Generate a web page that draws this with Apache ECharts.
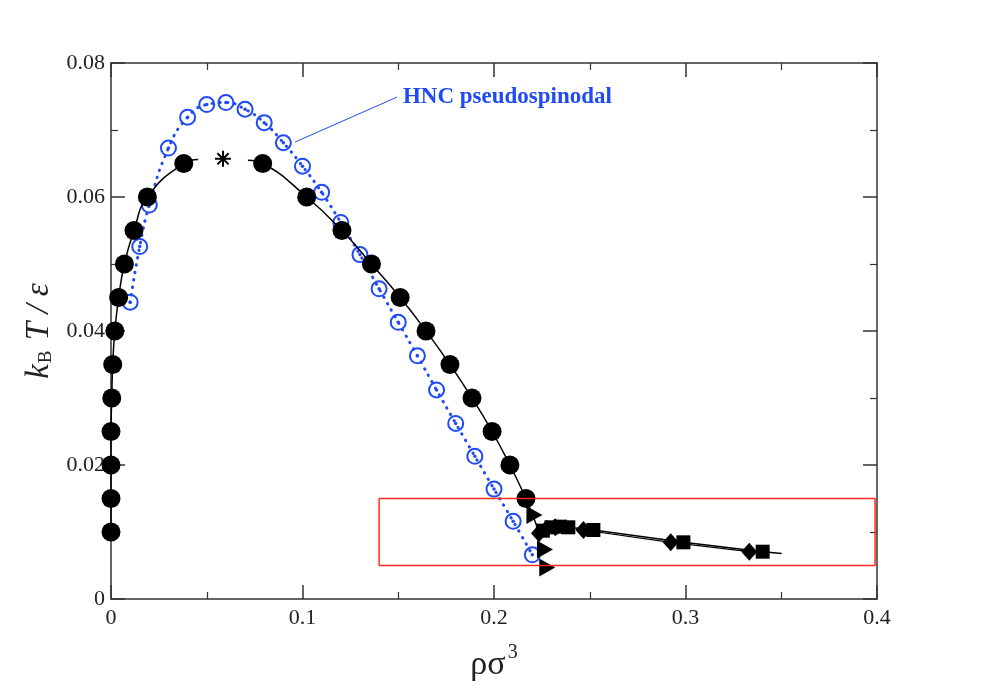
<!DOCTYPE html>
<html>
<head>
<meta charset="utf-8">
<script src="https://cdn.jsdelivr.net/npm/echarts@6/dist/echarts.min.js"></script>
<style>
  html, body { margin: 0; padding: 0; background: #fff; }
  #main { width: 981px; height: 691px; }
</style>
</head>
<body>
<div id="main"></div>
<script>
// tick labels
var xTicks = [0, 0.1, 0.2, 0.3, 0.4];
var yTicks = [0, 0.02, 0.04, 0.06, 0.08];

// simulation coexistence points (black circles)
var coexLeft = [[0, 0.01], [0, 0.015], [0, 0.02], [0, 0.025], [0.0004, 0.03], [0.0009, 0.035],
  [0.002, 0.04], [0.004, 0.045], [0.007, 0.05], [0.012, 0.055], [0.019, 0.06], [0.038, 0.065]];
var coexRight = [[0.0792, 0.065], [0.1022, 0.06], [0.1206, 0.055], [0.136, 0.05], [0.151, 0.045],
  [0.1645, 0.04], [0.177, 0.035], [0.1885, 0.03], [0.199, 0.025], [0.2083, 0.02], [0.2167, 0.015]];
// critical point (asterisk)
var critical = [[0.0585, 0.0657]];
// ends of the fitted curve next to the critical point
var leftEnd = [0.0455, 0.0656];
var rightStart = [0.0715, 0.0655];
// low temperature branch
var tail = [[0.2167, 0.015], [0.2228, 0.0106], [0.2388, 0.0107], [0.2519, 0.0103],
  [0.2989, 0.00846], [0.3403, 0.00706], [0.3502, 0.0068]];
var triangles = [[0.2211, 0.01254], [0.2266, 0.0074], [0.2278, 0.0047]];
var diamonds = [[0.2235, 0.0098], [0.2275, 0.0105], [0.232, 0.0107], [0.2467, 0.0103],
  [0.2923, 0.00846], [0.3333, 0.00706]];
var squares = [[0.2255, 0.0102], [0.23, 0.0107], [0.2345, 0.0108], [0.2388, 0.0107],
  [0.2519, 0.0103], [0.2989, 0.00846], [0.3403, 0.00706]];

// HNC pseudospinodal (blue)
var hncX = [0.01, 0.015, 0.02, 0.03, 0.04, 0.05, 0.06, 0.07, 0.08, 0.09, 0.1, 0.11, 0.12,
  0.13, 0.14, 0.15, 0.16, 0.17, 0.18, 0.19, 0.2, 0.21, 0.22];
var hncT = [0.0443, 0.0526, 0.0588, 0.0673, 0.0719, 0.0738, 0.0741, 0.0731, 0.0711, 0.0681,
  0.0646, 0.0607, 0.0562, 0.0514, 0.0463, 0.0413, 0.0363, 0.0312, 0.0262, 0.0213, 0.0164,
  0.0116, 0.0066];

// annotation pointer and highlighted box
var pointer = [[0.0961, 0.0682], [0.1493, 0.0749]];
var box = [[0.14, 0.005], [0.399, 0.005], [0.399, 0.015], [0.14, 0.015], [0.14, 0.005]];

var blue = '#1f4af5';
var hnc = hncX.map(function (x, i) { return [x, hncT[i]]; });

var chart = echarts.init(document.getElementById('main'));

var serif = 'Liberation Serif';
var axisLineStyle = { color: '#333', width: 1.5 };

function makeAxis(type, pos, showLabel, extra) {
  var ax = {
    type: 'value',
    position: pos,
    min: 0,
    max: type === 'x' ? 0.4 : 0.08,
    interval: type === 'x' ? 0.1 : 0.02,
    axisLine: { show: true, onZero: false, lineStyle: axisLineStyle },
    axisTick: { show: true, inside: true, length: 14, lineStyle: axisLineStyle },
    minorTick: { show: true, splitNumber: 2, length: 7, lineStyle: { color: '#333', width: 1.2 } },
    splitLine: { show: false },
    axisLabel: {
      show: showLabel,
      fontFamily: serif,
      fontSize: 22,
      color: '#222',
      margin: type === 'x' ? 8 : 6
    }
  };
  return Object.assign(ax, extra || {});
}

var option = {
  animation: false,
  backgroundColor: '#fff',
  grid: { left: 111, right: 104, top: 63, bottom: 92 },
  xAxis: [
    makeAxis('x', 'bottom', true, {
      name: 'ρσ{sup|3}',
      nameLocation: 'middle',
      nameGap: 44,
      nameTextStyle: {
        fontFamily: serif, fontSize: 34, color: '#222',
        rich: { sup: { fontFamily: serif, fontSize: 20, color: '#222', verticalAlign: 'top', padding: [0, 0, 24, 2] } }
      }
    }),
    makeAxis('x', 'top', false)
  ],
  yAxis: [
    makeAxis('y', 'left', true, {
      name: '{i|k}{sub|B}{i| T / ε}',
      nameLocation: 'middle',
      nameGap: 55,
      nameTextStyle: {
        rich: {
          i: { fontFamily: serif, fontStyle: 'italic', fontSize: 33, color: '#222' },
          sub: { fontFamily: serif, fontSize: 19, color: '#222', verticalAlign: 'bottom', padding: [13, 2, 0, 1] }
        }
      }
    }),
    makeAxis('y', 'right', false)
  ],
  series: [
    {
      type: 'line',
      data: hnc,
      smooth: true,
      showSymbol: false,
      lineStyle: { color: blue, width: 3, type: [0.5, 7], cap: 'round' },
      z: 2
    },
    {
      type: 'scatter',
      data: hnc,
      symbol: 'circle',
      symbolSize: 15,
      itemStyle: { color: 'rgba(255,255,255,0)', borderColor: blue, borderWidth: 2, opacity: 1 },
      z: 3
    },
    {
      type: 'scatter',
      data: hnc,
      symbol: 'circle',
      symbolSize: 3.5,
      itemStyle: { color: blue, opacity: 1 },
      z: 3
    },
    {
      type: 'line',
      data: pointer,
      showSymbol: false,
      lineStyle: { color: blue, width: 1 },
      endLabel: {
        show: true,
        formatter: 'HNC pseudospinodal',
        fontFamily: serif,
        fontWeight: 'bold',
        fontSize: 23,
        color: blue,
        distance: 6
      },
      z: 3
    },
    {
      type: 'line',
      data: coexLeft.concat([leftEnd]),
      smooth: true,
      showSymbol: false,
      lineStyle: { color: '#000', width: 1.5 },
      z: 4
    },
    {
      type: 'line',
      data: [rightStart].concat(coexRight),
      smooth: true,
      showSymbol: false,
      lineStyle: { color: '#000', width: 1.5 },
      z: 4
    },
    {
      type: 'line',
      data: tail,
      showSymbol: false,
      lineStyle: { color: '#000', width: 1.5 },
      z: 4
    },
    {
      type: 'line',
      data: diamonds.slice(3),
      showSymbol: false,
      lineStyle: { color: '#000', width: 1.2 },
      z: 4
    },
    {
      type: 'scatter',
      data: coexLeft.concat(coexRight),
      symbol: 'circle',
      symbolSize: 19,
      itemStyle: { color: '#000', opacity: 1 },
      z: 5
    },
    {
      type: 'scatter',
      data: critical,
      symbol: 'path://M0,-10L0,10M-10,0L10,0M-7,-7L7,7M-7,7L7,-7',
      symbolSize: 16,
      itemStyle: { color: 'none', borderColor: '#000', borderWidth: 2, opacity: 1 },
      z: 5
    },
    {
      type: 'scatter',
      data: triangles,
      symbol: 'triangle',
      symbolRotate: -90,
      symbolSize: [18, 16],
      itemStyle: { color: '#000', opacity: 1 },
      z: 5
    },
    {
      type: 'scatter',
      data: diamonds,
      symbol: 'diamond',
      symbolSize: [16, 18],
      itemStyle: { color: '#000', opacity: 1 },
      z: 5
    },
    {
      type: 'scatter',
      data: squares,
      symbol: 'rect',
      symbolSize: 14,
      itemStyle: { color: '#000', opacity: 1 },
      z: 5
    },
    {
      type: 'line',
      data: box,
      showSymbol: false,
      lineStyle: { color: '#ff2a1a', width: 1.5 },
      z: 6
    }
  ]
};

chart.setOption(option);
</script>
</body>
</html>
